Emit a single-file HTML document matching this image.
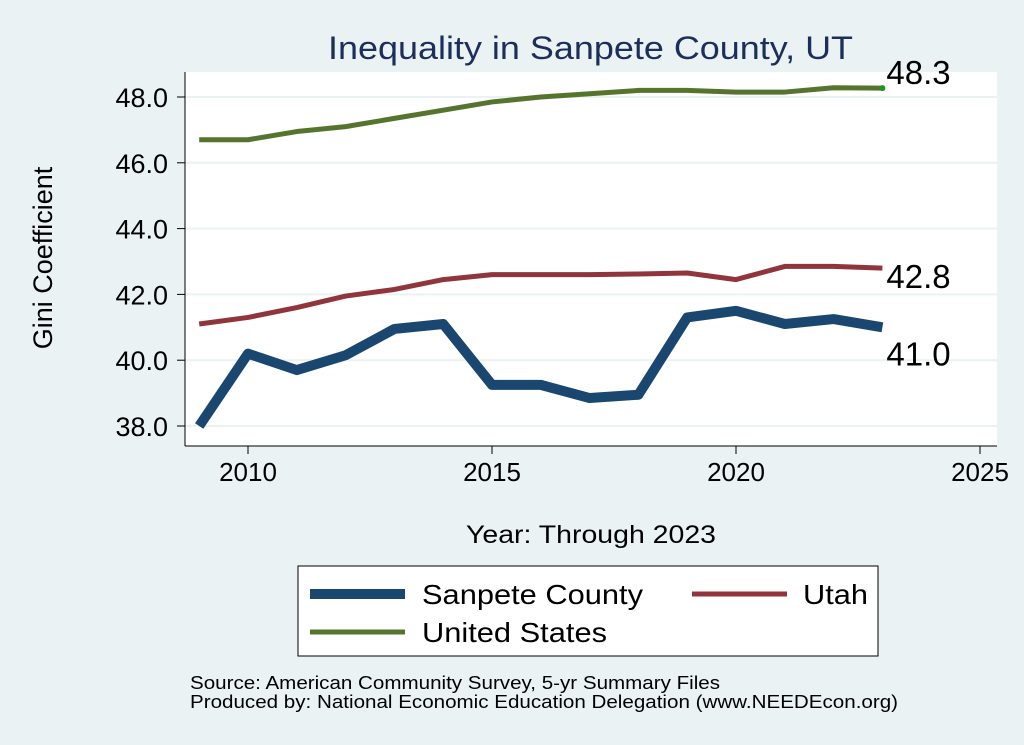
<!DOCTYPE html>
<html><head><meta charset="utf-8"><style>
body{margin:0;background:#eaf2f3;}
svg{display:block;font-family:"Liberation Sans",Arial,sans-serif;}
</style></head><body>
<svg id="chart" width="1024" height="745">
<rect x="0" y="0" width="1024" height="745" fill="#eaf2f3"/>
<rect x="185" y="72" width="812" height="374" fill="#fff"/>
<text x="328" y="59" font-size="32" fill="#1c2f5a" textLength="525" lengthAdjust="spacingAndGlyphs">Inequality in Sanpete County, UT</text>
<g id="grid"></g><g id="axes"></g><g id="series"></g>
<text transform="translate(52,258) rotate(-90)" font-size="27" text-anchor="middle" fill="#000">Gini Coefficient</text>
<text x="466" y="543" font-size="25" textLength="250" lengthAdjust="spacingAndGlyphs" fill="#000">Year: Through 2023</text>
<g>
<rect x="298" y="566" width="580" height="90" fill="#fff" stroke="#000" stroke-width="1"/>
<line x1="310" y1="594" x2="405" y2="594" stroke="#1a476f" stroke-width="10"/>
<text x="422" y="604" font-size="28" textLength="221" lengthAdjust="spacingAndGlyphs">Sanpete County</text>
<line x1="692" y1="594" x2="787" y2="594" stroke="#90353b" stroke-width="5"/>
<text x="803" y="604" font-size="28" textLength="65" lengthAdjust="spacingAndGlyphs">Utah</text>
<line x1="310" y1="632" x2="405" y2="632" stroke="#55752f" stroke-width="5"/>
<text x="422" y="642" font-size="28" textLength="185" lengthAdjust="spacingAndGlyphs">United States</text>
</g>
<text x="190" y="689" font-size="18" textLength="530" lengthAdjust="spacingAndGlyphs">Source: American Community Survey, 5-yr Summary Files</text>
<text x="190" y="708" font-size="18" textLength="708" lengthAdjust="spacingAndGlyphs">Produced by: National Economic Education Delegation (www.NEEDEcon.org)</text>
</svg>
<script>
const years=[2009,2010,2011,2012,2013,2014,2015,2016,2017,2018,2019,2020,2021,2022,2023];
const sanpete=[38.0,40.2,39.7,40.15,40.95,41.1,39.25,39.25,38.85,38.95,41.3,41.5,41.1,41.25,41.0];
const utah=[41.1,41.3,41.6,41.95,42.15,42.45,42.6,42.6,42.6,42.62,42.65,42.45,42.85,42.85,42.8];
const us=[46.7,46.7,46.95,47.1,47.35,47.6,47.85,48.0,48.1,48.2,48.2,48.15,48.15,48.28,48.27];
const xTicks=[2010,2015,2020,2025];
const yTicks=[38,40,42,44,46,48];
const NS='http://www.w3.org/2000/svg';
const X=v=>248+(v-2010)*48.8;
const Y=v=>426-(v-38)*32.9;
function mk(t,a,p){const e=document.createElementNS(NS,t);for(const k in a)e.setAttribute(k,a[k]);p.appendChild(e);return e;}
const grid=document.getElementById('grid'),axes=document.getElementById('axes'),ser=document.getElementById('series');
yTicks.forEach(t=>{
 const g=mk('line',{x1:185,x2:997,y1:Y(t),y2:Y(t),stroke:'#eaf2f3','stroke-width':2},grid);
 
 
 mk('line',{x1:177,x2:185,y1:Y(t),y2:Y(t),stroke:'#000'},axes);
 const l=mk('text',{x:168,y:Y(t)+10,'font-size':27,'text-anchor':'end'},axes);
 l.textContent=t.toFixed(1);
 
 
});
mk('line',{x1:185,x2:185,y1:72,y2:446,stroke:'#000'},axes);
mk('line',{x1:185,x2:997,y1:446,y2:446,stroke:'#000'},axes);
xTicks.forEach(t=>{
 mk('line',{x1:X(t),x2:X(t),y1:446,y2:454,stroke:'#000'},axes);
 const l=mk('text',{x:X(t),y:481,'font-size':26,'text-anchor':'middle'},axes);
 l.textContent=t;
 
 
});
function line(vals,color,w,name){
 const p=mk('polyline',{points:vals.map((v,i)=>X(years[i])+','+Y(v)).join(' '),fill:'none',stroke:color,'stroke-width':w,'stroke-linejoin':'round'},ser);
 
 
}
line(us,'#55752f',5,'series-us');
line(utah,'#90353b',5,'series-utah');
line(sanpete,'#1a476f',10,'series-sanpete');
const n=years.length-1;
mk('circle',{cx:X(years[n]),cy:Y(us[n]),r:3,fill:'#1a9a1a'},ser);
function lab(txt,y,name){const t=mk('text',{x:X(years[n])+4,y:y,'font-size':33},ser);t.textContent=txt;
 
 }
lab(us[n].toFixed(1),Y(us[n])-4,'label-us-end');
lab(utah[n].toFixed(1),Y(utah[n])+20,'label-utah-end');
lab(sanpete[n].toFixed(1),Y(sanpete[n])+38,'label-sanpete-end');
</script>
</body></html>
